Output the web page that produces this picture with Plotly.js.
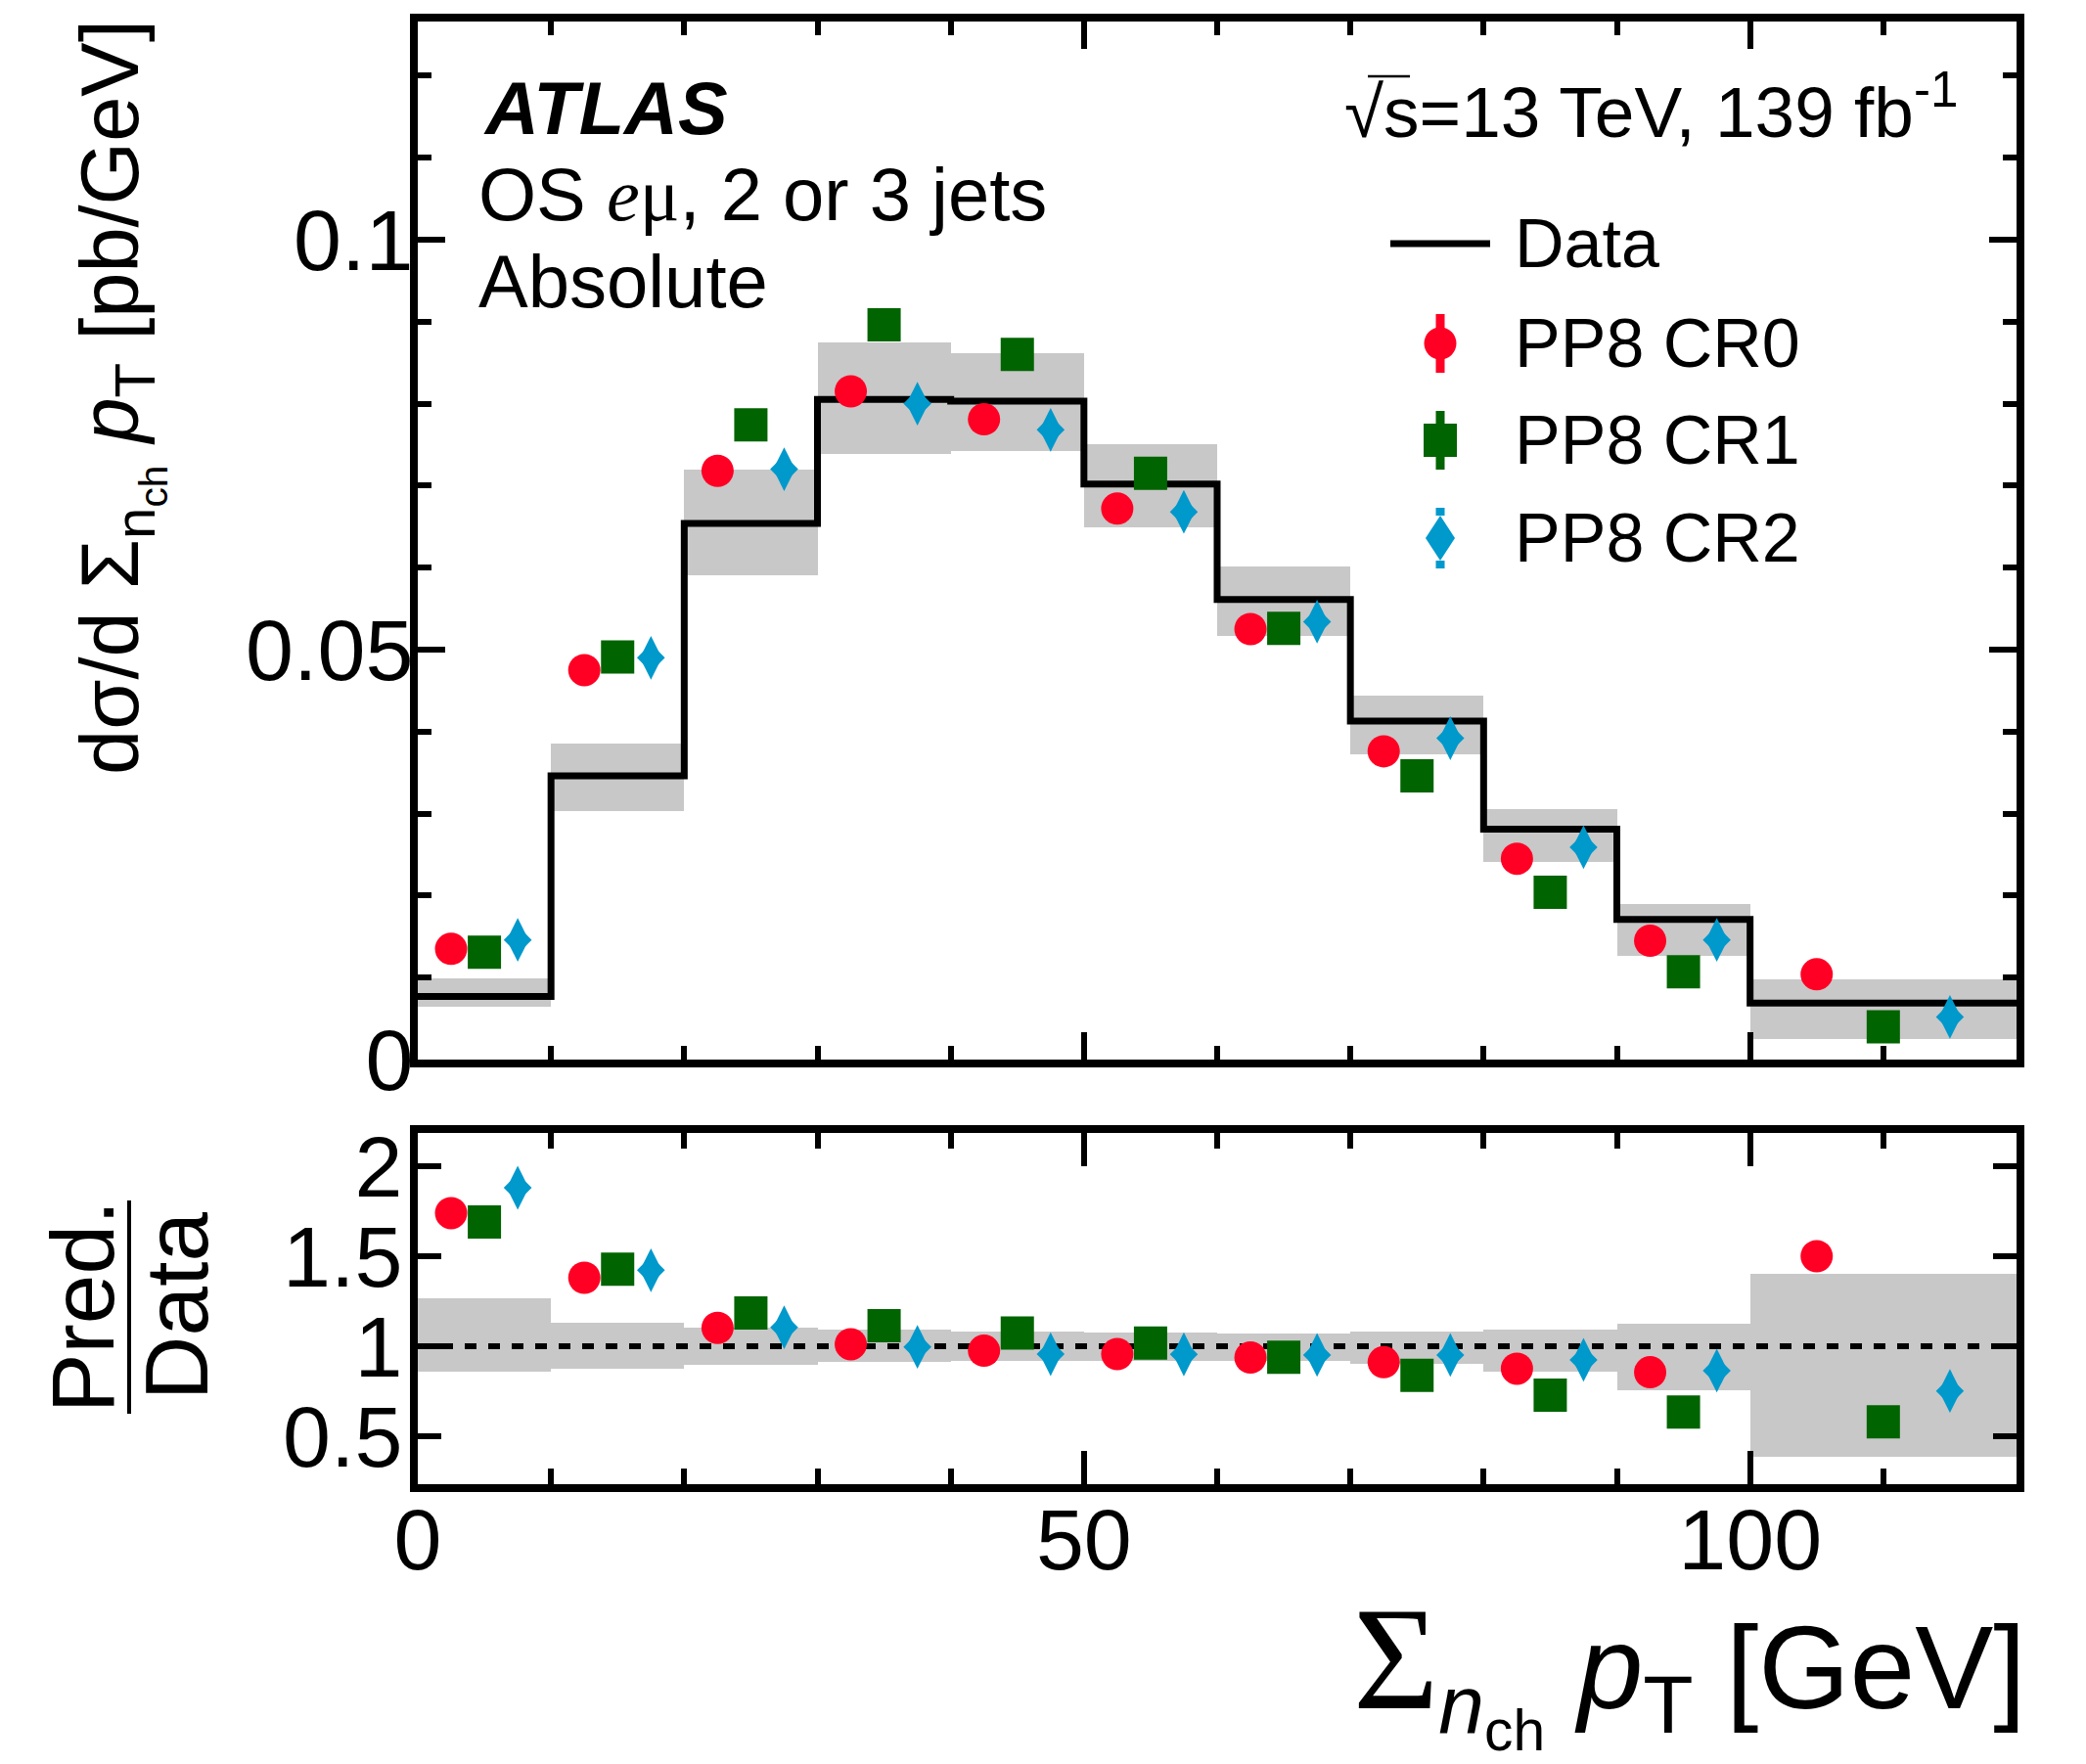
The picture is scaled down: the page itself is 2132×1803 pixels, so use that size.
<!DOCTYPE html>
<html>
<head>
<meta charset="utf-8">
<script src="https://cdn.plot.ly/plotly-3.0.1.min.js"></script>
<style>
  html, body { margin: 0; padding: 0; background: #ffffff; }
  #plot { width: 2132px; height: 1803px; }
</style>
</head>
<body>
<div id="plot"></div>
<script>
// Bin edges of the sum of charged-particle pT [GeV]
const binEdges = [0, 10, 20, 30, 40, 50, 60, 70, 80, 90, 100, 120];

// Measured cross-section per bin [pb/GeV] and its uncertainty band
const dataVals = [0.0077, 0.0346, 0.0654, 0.0805, 0.0803, 0.0702, 0.0561, 0.0413, 0.0281, 0.0171, 0.0069];
const bandLow  = [0.0065, 0.0303, 0.0591, 0.0739, 0.0742, 0.0649, 0.0517, 0.0372, 0.0241, 0.0127, 0.0025];
const bandHigh = [0.0099, 0.0386, 0.0719, 0.0875, 0.0862, 0.0751, 0.0601, 0.0444, 0.0306, 0.0190, 0.0098];

// Predictions (Powheg+Pythia8 colour-reconnection variants), drawn offset inside each bin
const cr0X = [2.5, 12.5, 22.5, 32.5, 42.5, 52.5, 62.5, 72.5, 82.5, 92.5, 105];
const cr1X = [5, 15, 25, 35, 45, 55, 65, 75, 85, 95, 110];
const cr2X = [7.5, 17.5, 27.5, 37.5, 47.5, 57.5, 67.5, 77.5, 87.5, 97.5, 115];
const cr0Vals = [0.0135, 0.0475, 0.0718, 0.0815, 0.0781, 0.0672, 0.0525, 0.0376, 0.0245, 0.0145, 0.0104];
const cr1Vals = [0.0131, 0.0491, 0.0774, 0.0896, 0.0860, 0.0715, 0.0526, 0.0346, 0.0204, 0.0107, 0.0040];
const cr2Vals = [0.0146, 0.0490, 0.0720, 0.0800, 0.0768, 0.0668, 0.0534, 0.0392, 0.0259, 0.0146, 0.0052];

// Ratio panel: prediction / data and relative data uncertainty
const cr0Ratio = [1.741, 1.381, 1.102, 1.011, 0.975, 0.956, 0.937, 0.911, 0.875, 0.855, 1.501];
const cr1Ratio = [1.692, 1.429, 1.185, 1.114, 1.073, 1.018, 0.938, 0.838, 0.728, 0.633, 0.579];
const cr2Ratio = [1.882, 1.423, 1.105, 0.996, 0.956, 0.955, 0.951, 0.951, 0.924, 0.864, 0.751];
const ratioBandLow  = [0.857, 0.875, 0.896, 0.911, 0.920, 0.920, 0.920, 0.902, 0.857, 0.755, 0.386];
const ratioBandHigh = [1.268, 1.129, 1.105, 1.093, 1.082, 1.077, 1.073, 1.082, 1.091, 1.124, 1.403];

const seriesNames = ['Data', 'PP8 CR0', 'PP8 CR1', 'PP8 CR2'];

// ---- styling ----
const FONT = 'Liberation Sans, Arial, Helvetica, sans-serif';
const RED = '#ff0024', GREEN = '#006400', BLUE = '#0099cc', BAND = '#c8c8c8';

const W = 2132, H = 1803;
const PL = 427, PR = 2061, PT = 22, PB = 1517;   // plot area in pixels
const MAIN_BOTTOM = 1083, RATIO_TOP = 1158;

const fx = p => (p - PL) / (PR - PL);
const fy = p => (PB - p) / (PB - PT);

const centers = binEdges.slice(0, -1).map((e, i) => (e + binEdges[i + 1]) / 2);
const widths  = binEdges.slice(0, -1).map((e, i) => binEdges[i + 1] - e);

const markerCR0 = { symbol: 'circle', size: 33, color: RED, line: { width: 0 } };
const markerCR1 = { symbol: 'square', size: 34, color: GREEN, line: { width: 0 } };
// the CR2 diamond is a tall diamond widened by a smaller regular diamond on top
const markerCR2 = { symbol: 'diamond-tall', size: 32, color: BLUE, line: { width: 0 } };
const markerCR2w = { symbol: 'diamond', size: 22, color: BLUE, line: { width: 0 } };

function pts(x, y, marker, xa, ya, name) {
  return { type: 'scatter', mode: 'markers', name: name, x: x, y: y, marker: marker,
    xaxis: xa, yaxis: ya, showlegend: false };
}

const traces = [
  { type: 'bar', x: centers, width: widths, base: bandLow,
    y: bandHigh.map((h, i) => h - bandLow[i]),
    marker: { color: BAND, line: { width: 0 } }, xaxis: 'x', yaxis: 'y', showlegend: false },
  { type: 'scatter', mode: 'lines', name: seriesNames[0],
    x: binEdges, y: dataVals.concat([dataVals[dataVals.length - 1]]),
    line: { shape: 'hv', width: 7, color: '#000' }, xaxis: 'x', yaxis: 'y', showlegend: false },
  pts(cr0X, cr0Vals, markerCR0, 'x', 'y', seriesNames[1]),
  pts(cr1X, cr1Vals, markerCR1, 'x', 'y', seriesNames[2]),
  pts(cr2X, cr2Vals, markerCR2, 'x', 'y', seriesNames[3]),
  pts(cr2X, cr2Vals, markerCR2w, 'x', 'y', seriesNames[3]),

  { type: 'bar', x: centers, width: widths, base: ratioBandLow,
    y: ratioBandHigh.map((h, i) => h - ratioBandLow[i]),
    marker: { color: BAND, line: { width: 0 } }, xaxis: 'x2', yaxis: 'y2', showlegend: false },
  { type: 'scatter', mode: 'lines', x: [binEdges[0], binEdges[binEdges.length - 1]], y: [1, 1],
    line: { width: 6, color: '#000', dash: '12px,12px' }, xaxis: 'x2', yaxis: 'y2', showlegend: false },
  pts(cr0X, cr0Ratio, markerCR0, 'x2', 'y2', seriesNames[1]),
  pts(cr1X, cr1Ratio, markerCR1, 'x2', 'y2', seriesNames[2]),
  pts(cr2X, cr2Ratio, markerCR2, 'x2', 'y2', seriesNames[3]),
  pts(cr2X, cr2Ratio, markerCR2w, 'x2', 'y2', seriesNames[3])
];

const frame = {
  showline: true, linecolor: '#000', linewidth: 8, mirror: 'ticks',
  ticks: 'inside', tickcolor: '#000', tickwidth: 6,
  showgrid: false, zeroline: false, fixedrange: true,
  tickfont: { family: FONT, size: 88, color: '#000' }
};

const layout = {
  width: W, height: H,
  margin: { l: PL, r: W - PR, t: PT, b: H - PB, pad: 0 },
  paper_bgcolor: '#fff', plot_bgcolor: 'rgba(0,0,0,0)',
  barmode: 'overlay', bargap: 0, showlegend: false,
  xaxis: Object.assign({}, frame, {
    anchor: 'y', domain: [0, 1], range: [0, 120], showticklabels: false,
    tick0: 0, dtick: 50, ticklen: 28,
    minor: { dtick: 10, ticklen: 14, tickwidth: 6, tickcolor: '#000', ticks: 'inside' }
  }),
  yaxis: Object.assign({}, frame, {
    anchor: 'x', domain: [fy(MAIN_BOTTOM), 1], range: [0, 0.1266],
    tick0: 0, dtick: 0.05, ticklen: 28, ticklabelstandoff: -21,
    minor: { dtick: 0.01, ticklen: 14, tickwidth: 6, tickcolor: '#000', ticks: 'inside' }
  }),
  xaxis2: Object.assign({}, frame, {
    anchor: 'y2', domain: [0, 1], range: [0, 120],
    tick0: 0, dtick: 50, ticklen: 34, ticklabelstandoff: -27,
    minor: { dtick: 10, ticklen: 16, tickwidth: 6, tickcolor: '#000', ticks: 'inside' }
  }),
  yaxis2: Object.assign({}, frame, {
    anchor: 'x2', domain: [0, fy(RATIO_TOP)], range: [0.232, 2.187],
    tick0: 0, dtick: 0.5, ticklen: 24, ticklabelstandoff: -10,
    tickfont: { family: FONT, size: 88, color: '#000' }
  }),
  annotations: [],
  shapes: []
};

// text placed by its baseline position in pixels
function label(text, xPx, basePx, size, opts) {
  return Object.assign({
    xref: 'paper', yref: 'paper', x: fx(xPx), y: fy(basePx + 0.212 * size),
    xanchor: 'left', yanchor: 'bottom', text: text, showarrow: false,
    borderpad: 0, borderwidth: 0,
    font: { family: FONT, size: size, color: '#000' }
  }, opts || {});
}

layout.annotations.push(
  label('<b><i>ATLAS</i></b>', 494, 137, 76),
  label('OS <span style="font-family:Liberation Serif"><i>e</i>μ</span>, 2 or 3 jets', 489, 225, 76),
  label('Absolute', 489, 314, 76),
  label('√s=13 TeV, 139 fb<sup>-1</sup>', 1374, 140, 73),
  label(seriesNames[0], 1548, 273, 70),
  label(seriesNames[1], 1548, 375, 70),
  label(seriesNames[2], 1548, 474, 70),
  label(seriesNames[3], 1548, 574, 70)
);

// axis titles
layout.annotations.push({
  xref: 'paper', yref: 'paper', x: fx(2071), y: fy(1612), xanchor: 'right', yanchor: 'top',
  showarrow: false, borderpad: 0, borderwidth: 0,
  text: '<span style="font-family:Liberation Serif;font-size:150px">Σ</span><sub><i>n</i><sub>ch</sub></sub> <i>p</i><sub>T</sub> [GeV]',
  font: { family: FONT, size: 120, color: '#000' }
});
layout.annotations.push({
  xref: 'paper', yref: 'paper', x: fx(141 - 0.905 * 83), y: fy(20), xanchor: 'left', yanchor: 'top',
  textangle: -90, showarrow: false, borderpad: 0, borderwidth: 0,
  text: 'dσ/d Σ<sub>n<sub>ch</sub></sub> <i>p</i><sub>T</sub> [pb/GeV]',
  font: { family: FONT, size: 83, color: '#000' }
});
layout.annotations.push({
  xref: 'paper', yref: 'paper', x: fx(116 - 0.905 * 91), y: fy(1335), xanchor: 'left', yanchor: 'middle',
  textangle: -90, showarrow: false, borderpad: 0, borderwidth: 0,
  text: 'Pred.', font: { family: FONT, size: 91, color: '#000' }
});
layout.annotations.push({
  xref: 'paper', yref: 'paper', x: fx(212 - 0.905 * 91), y: fy(1335), xanchor: 'left', yanchor: 'middle',
  textangle: -90, showarrow: false, borderpad: 0, borderwidth: 0,
  text: 'Data', font: { family: FONT, size: 91, color: '#000' }
});

// fraction bar of the ratio title
layout.shapes.push({ type: 'line', xref: 'paper', yref: 'paper',
  x0: fx(132), x1: fx(132), y0: fy(1227), y1: fy(1445), line: { color: '#000', width: 4 } });
// overline of the square root
layout.shapes.push({ type: 'line', xref: 'paper', yref: 'paper',
  x0: fx(1398), x1: fx(1441), y0: fy(78), y1: fy(78), line: { color: '#000', width: 2.5 } });

// legend glyphs
const LEG_X = 1472;
const legY = [249, 351, 450, 550];
function vbar(x, y0, y1, color) {
  return { type: 'line', xref: 'paper', yref: 'paper', x0: fx(x), x1: fx(x), y0: fy(y0), y1: fy(y1),
    line: { color: color, width: 9 } };
}
layout.shapes.push(
  { type: 'line', xref: 'paper', yref: 'paper', x0: fx(1421), x1: fx(1523), y0: fy(legY[0]), y1: fy(legY[0]),
    line: { color: '#000', width: 7 } },
  vbar(LEG_X, legY[1] - 30, legY[1] + 30, RED),
  { type: 'circle', xref: 'paper', yref: 'paper', x0: fx(LEG_X - 16.5), x1: fx(LEG_X + 16.5),
    y0: fy(legY[1] + 16.5), y1: fy(legY[1] - 16.5), fillcolor: RED, line: { width: 0 } },
  vbar(LEG_X, legY[2] - 30, legY[2] + 30, GREEN),
  { type: 'rect', xref: 'paper', yref: 'paper', x0: fx(LEG_X - 17), x1: fx(LEG_X + 17),
    y0: fy(legY[2] + 17), y1: fy(legY[2] - 17), fillcolor: GREEN, line: { width: 0 } },
  vbar(LEG_X, legY[3] - 31, legY[3] - 23, BLUE),
  vbar(LEG_X, legY[3] + 23, legY[3] + 31, BLUE)
);
const dHalfW = 15, dHalfH = 23;
layout.shapes.push({
  type: 'path', xref: 'paper', yref: 'paper', fillcolor: BLUE, line: { width: 0 },
  path: 'M' + fx(LEG_X) + ',' + fy(legY[3] - dHalfH) +
        ' L' + fx(LEG_X + dHalfW) + ',' + fy(legY[3]) +
        ' L' + fx(LEG_X) + ',' + fy(legY[3] + dHalfH) +
        ' L' + fx(LEG_X - dHalfW) + ',' + fy(legY[3]) + ' Z'
});

Plotly.newPlot('plot', traces, layout, { staticPlot: true, displayModeBar: false });
</script>
</body>
</html>
